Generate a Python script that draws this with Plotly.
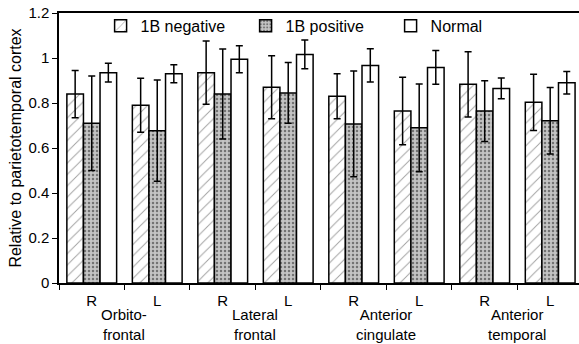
import plotly.graph_objects as go

positions = ["R", "L", "R", "L", "R", "L", "R", "L"]
regions = ["Orbito-<br>frontal", "Lateral<br>frontal", "Anterior<br>cingulate", "Anterior<br>temporal"]
y_ticks = [0, 0.2, 0.4, 0.6, 0.8, 1.0, 1.2]
y_tick_text = ["0", "0.2", "0.4", "0.6", "0.8", "1", "1.2"]

neg_vals = [0.84, 0.79, 0.935, 0.87, 0.83, 0.765, 0.883, 0.803]
neg_err = [0.105, 0.12, 0.14, 0.14, 0.10, 0.15, 0.145, 0.125]
pos_vals = [0.71, 0.677, 0.84, 0.845, 0.707, 0.69, 0.764, 0.721]
pos_err = [0.21, 0.225, 0.20, 0.135, 0.235, 0.195, 0.135, 0.148]
norm_vals = [0.935, 0.93, 0.994, 1.016, 0.967, 0.958, 0.865, 0.89]
norm_err = [0.042, 0.04, 0.06, 0.064, 0.074, 0.075, 0.046, 0.05]

x = list(range(len(positions)))
font = "Liberation Sans, Arial, sans-serif"

def eb(vals):
    return dict(type="data", array=vals, color="black", thickness=1.5, width=3.5)

fig = go.Figure()
fig.add_trace(go.Bar(
    x=x, y=neg_vals, name="1B negative", error_y=eb(neg_err),
    marker=dict(color="white", line=dict(color="black", width=1.5),
                pattern=dict(shape="/", fgcolor="#444", bgcolor="white", size=8, solidity=0.12)),
))
fig.add_trace(go.Bar(
    x=x, y=pos_vals, name="1B positive", error_y=eb(pos_err),
    marker=dict(color="#bbbbbb", line=dict(color="black", width=1.5),
                pattern=dict(shape=".", fgcolor="#222", bgcolor="#c4c4c4", size=4, solidity=0.3)),
))
fig.add_trace(go.Bar(
    x=x, y=norm_vals, name="Normal", error_y=eb(norm_err),
    marker=dict(color="white", line=dict(color="black", width=1.5)),
))

for i, r in enumerate(regions):
    fig.add_annotation(x=2 * i + 0.5, y=0, xref="x", yref="paper", text=r,
                       showarrow=False, yanchor="middle", yshift=-41.5,
                       font=dict(family=font, size=15, color="black"))

fig.update_layout(
    width=579, height=344,
    margin=dict(l=59, r=0, t=13, b=61, autoexpand=False),
    paper_bgcolor="white", plot_bgcolor="white",
    barmode="group", bargap=0.24, bargroupgap=0,
    font=dict(family=font, size=15, color="black"),
    legend=dict(orientation="h", x=0.08, y=1.015, xanchor="left", yanchor="top",
                bgcolor="rgba(0,0,0,0)", font=dict(size=16), itemwidth=30,
                entrywidth=100, entrywidthmode="pixels",
                traceorder="normal"),
    xaxis=dict(range=[-0.5, 7.44], tickmode="array", tickvals=x, ticktext=positions,
               ticks="", showline=True, linecolor="black", linewidth=1.5, mirror=True,
               showgrid=False, zeroline=False, ticklabelstandoff=3,
               minor=dict(tickmode="array", tickvals=[i - 0.5 for i in range(9)],
                          ticks="outside", ticklen=5, tickcolor="black", tickwidth=1.2),
               tickfont=dict(size=15)),
    yaxis=dict(range=[0, 1.2], tickmode="array", tickvals=y_ticks, ticktext=y_tick_text,
               ticks="outside", ticklen=5, tickcolor="black", ticklabeloverflow="allow",
               showline=True, linecolor="black", linewidth=1.5, showgrid=False, zeroline=False,
               tickfont=dict(size=15), automargin=False,
               title=dict(text="Relative to parietotemporal cortex", font=dict(size=16), standoff=3)),
)

fig.write_html("out.html", config={"displayModeBar": False},
               post_script="document.body.style.margin='0';")
